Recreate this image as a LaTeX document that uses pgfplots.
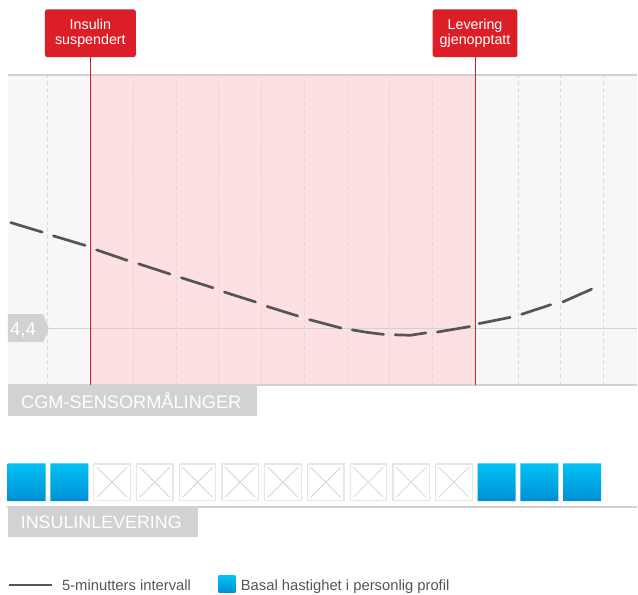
\documentclass[border=0pt]{standalone}
\usepackage{pgfplots}
\pgfplotsset{compat=1.18}
\usepackage{fontspec}
\setmainfont{Liberation Sans}
\definecolor{bggray}{HTML}{F7F7F7}
\definecolor{pinkreg}{HTML}{FDE1E2}
\definecolor{gridgray}{HTML}{DADADA}
\definecolor{linegray}{HTML}{D2D2D2}
\definecolor{redc}{HTML}{DC1F27}
\definecolor{curvec}{HTML}{555555}
\definecolor{lblgray}{HTML}{D1D2D4}
\definecolor{bluetop}{HTML}{00C2F3}
\definecolor{bluebot}{HTML}{008FD5}
\definecolor{boxgray}{HTML}{E6E6E6}
\definecolor{crossgray}{HTML}{D6D6D6}
\definecolor{textgray}{HTML}{555555}
\begin{document}
\begin{tikzpicture}
% ---------- CGM panel ----------
\begin{axis}[
  at={(8bp,-386bp)}, anchor=south west,
  width=630bp, height=311bp, scale only axis,
  xmin=-0.9346, xmax=13.785, ymin=2.975, ymax=10.75,
  set layers,
  axis background/.style={fill=bggray},
  separate axis lines,
  x axis line style={draw=linegray, line width=2bp},
  y axis line style={draw=none},
  xtick={0,...,13}, xticklabels={}, ytick=\empty,
  major tick length=0pt,
  xmajorgrids,
  grid style={draw=gridgray, line width=0.9bp, dash pattern=on 4bp off 3bp},
  clip=false,
  unbounded coords=jump,
]
\addplot[on layer=axis background, fill=pinkreg, draw=none]
  coordinates {(1,2.975) (1,10.75) (10,10.75) (10,2.975)} -- cycle;
% 4,4 reference line
\addplot[draw=linegray, line width=1.7bp] coordinates {(0,4.4) (13.785,4.4)};
% red markers
\addplot[draw=redc, line width=1.3bp] coordinates {(1,2.975) (1,11.19) (1,nan) (10,2.975) (10,11.19)};
% CGM curve (one dash per 5-minute interval)
\addplot[draw=curvec, line width=2.7bp, line cap=round] coordinates {
(-0.870,7.052) (-0.135,6.814) (0,nan)
(0.128,6.719) (0.870,6.481) (1,nan)
(1.139,6.368) (1.851,6.107) (2,nan)
(2.121,6.019) (2.856,5.764) (3,nan)
(3.125,5.669) (3.861,5.420) (4,nan)
(4.130,5.311) (4.858,5.064) (5,nan)
(5.128,4.952) (5.846,4.714) (6,nan)
(6.123,4.620) (6.858,4.412) (7,nan)
(7.121,4.365) (7.488,4.300) (7.856,4.252) (8,nan)
(8.125,4.242) (8.481,4.230) (8.844,4.290) (9,nan)
(9.114,4.311) (9.865,4.446) (10,nan)
(10.088,4.522) (10.816,4.678) (11,nan)
(11.086,4.756) (11.765,4.994) (12,nan)
(12.051,5.066) (12.723,5.385)
};
\end{axis}
% ---------- insulin delivery row ----------
\begin{axis}[
  at={(8bp,-502bp)}, anchor=south west,
  width=630bp, height=38bp, scale only axis,
  xmin=-0.9346, xmax=13.785, ymin=0, ymax=1,
  hide axis, clip=false,
]
\addplot[ybar, bar width=38bp, bar shift=0pt, draw=none, top color=bluetop, bottom color=bluebot]
  coordinates {(-0.5,1) (0.5,1) (10.5,1) (11.5,1) (12.5,1)};
\addplot[only marks, mark=square*, mark size=18.3bp, mark options={draw=boxgray, fill=white, line width=1.3bp}]
  coordinates {(1.5,0.5) (2.5,0.5) (3.5,0.5) (4.5,0.5) (5.5,0.5) (6.5,0.5) (7.5,0.5) (8.5,0.5) (9.5,0.5)};
\addplot[only marks, mark=x, mark size=21.2bp, mark options={draw=crossgray, line width=0.8bp}]
  coordinates {(1.5,0.5) (2.5,0.5) (3.5,0.5) (4.5,0.5) (5.5,0.5) (6.5,0.5) (7.5,0.5) (8.5,0.5) (9.5,0.5)};
\end{axis}
\draw[linegray, line width=1.7bp] (7bp,-507.7bp) -- (638bp,-507.7bp);
% ---------- labels ----------
\node[fill=redc, rounded corners=2.5bp, minimum width=91bp, minimum height=48bp, inner sep=0,
      text=white, align=center, font=\fontsize{14.3bp}{15.5bp}\selectfont] at (90.5bp,-33.3bp) {Insulin\\suspendert};
\node[fill=redc, rounded corners=2.5bp, minimum width=85bp, minimum height=48bp, inner sep=0,
      text=white, align=center, font=\fontsize{14.3bp}{15.5bp}\selectfont] at (475.8bp,-33.3bp) {Levering\\gjenopptatt};
\node[fill=lblgray, anchor=north west, minimum height=30.7bp, text width=249bp, inner xsep=0, inner ysep=0,
      align=left, text=white, font=\fontsize{18.2bp}{20bp}\selectfont] at (8bp,-386bp) {\hspace*{13bp}CGM-SENSORMÅLINGER};
\node[fill=lblgray, anchor=north west, minimum height=28.7bp, text width=189.7bp, inner xsep=0, inner ysep=0,
      align=left, text=white, font=\fontsize{17.9bp}{20bp}\selectfont] at (8bp,-509bp) {\hspace*{12.7bp}INSULINLEVERING};
\fill[lblgray] (8bp,-314.7bp) -- (43.3bp,-314.7bp) -- (49bp,-329bp) -- (43.3bp,-342.7bp) -- (8bp,-342.7bp) -- cycle;
\node[anchor=base west, text=white, inner sep=0, font=\fontsize{18.5bp}{20bp}\selectfont] at (10bp,-336bp) {4,4};
% ---------- legend ----------
\draw[curvec, line width=2.2bp] (9.5bp,-585.7bp) -- (52.3bp,-585.7bp);
\node[anchor=base west, text=textgray, inner sep=0, font=\fontsize{14.8bp}{16bp}\selectfont] at (62bp,-591.5bp) {5-minutters intervall};
\shade[top color=bluetop, bottom color=bluebot] (219bp,-576.7bp) rectangle (235.7bp,-593.3bp);
\node[anchor=base west, text=textgray, inner sep=0, font=\fontsize{14.8bp}{16bp}\selectfont] at (241bp,-591.5bp) {Basal hastighet i personlig profil};
\path (0,0) rectangle (638bp,-595bp);
\end{tikzpicture}
\end{document}
